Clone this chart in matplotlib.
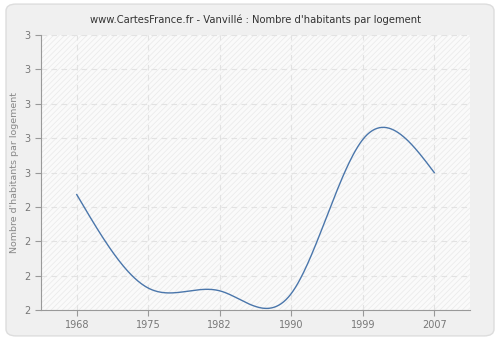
import numpy as np
from matplotlib import pyplot as plt
from matplotlib.patches import FancyBboxPatch, Rectangle
from matplotlib.ticker import FuncFormatter

# Données du graphique.
years = ['1968', '1975', '1982', '1990', '1999', '2007']
values = [2.42, 2.08, 2.07, 2.06, 2.62, 2.50]
y_ticks = [2.0, 2.125, 2.25, 2.375, 2.5, 2.625, 2.75, 2.875, 3.0]


def natural_spline(x, y, n=300):
    x = np.asarray(x, float)
    y = np.asarray(y, float)
    k = len(x)
    h = np.diff(x)
    a = np.zeros((k, k))
    b = np.zeros(k)
    a[0, 0] = a[-1, -1] = 1
    for i in range(1, k - 1):
        a[i, i - 1] = h[i - 1]
        a[i, i] = 2 * (h[i - 1] + h[i])
        a[i, i + 1] = h[i]
        b[i] = 3 * ((y[i + 1] - y[i]) / h[i] - (y[i] - y[i - 1]) / h[i - 1])
    c = np.linalg.solve(a, b)
    xs = np.linspace(x[0], x[-1], n)
    ys = np.empty_like(xs)
    for j, t in enumerate(xs):
        i = min(np.searchsorted(x, t, side='right') - 1, k - 2)
        d = t - x[i]
        bb = (y[i + 1] - y[i]) / h[i] - h[i] * (2 * c[i] + c[i + 1]) / 3
        dd = (c[i + 1] - c[i]) / (3 * h[i])
        ys[j] = y[i] + bb * d + c[i] * d ** 2 + dd * d ** 3
    return xs, ys


fig = plt.figure(figsize=(5, 3.4), dpi=100)
fig.patch.set_facecolor('white')
fig.patches.append(FancyBboxPatch((0.012, 0.012), 0.976, 0.976,
                                  boxstyle='round,pad=0,rounding_size=0.02',
                                  transform=fig.transFigure, facecolor='#f0f0f0',
                                  edgecolor='#dddddd', linewidth=1, zorder=-10))

ax = fig.add_axes([0.082, 0.088, 0.858, 0.809])
ax.set_facecolor('#fafafa')
plt.rcParams['hatch.linewidth'] = 0.5
ax.add_patch(Rectangle((0, 0), 1, 1, transform=ax.transAxes, facecolor='none',
                       edgecolor='#e9e9e9', hatch='//////', linewidth=0, zorder=0))

idx = np.arange(len(years))
xs, ys = natural_spline(idx, values)
ax.plot(xs, ys, color='#4a76ab', linewidth=1, zorder=3)

ax.set_xlim(-0.5, len(years) - 0.5)
ax.set_ylim(2.0, 3.0)
ax.set_xticks(idx)
ax.set_xticklabels(years)
ax.set_yticks(y_ticks)
ax.yaxis.set_major_formatter(FuncFormatter(lambda v, p: str(int(v + 0.5))))
ax.grid(True, color='#e2e2e2', linestyle=(0, (5, 4)), linewidth=0.8)
ax.set_axisbelow(True)

for s in ['top', 'right']:
    ax.spines[s].set_visible(False)
for s in ['left', 'bottom']:
    ax.spines[s].set_color('#999999')

ax.tick_params(axis='both', colors='#999999', labelcolor='#777777',
               labelsize=7, length=4)
ax.set_ylabel("Nombre d'habitants par logement", fontsize=6.8, color='#888888')
ax.set_title("www.CartesFrance.fr - Vanvillé : Nombre d'habitants par logement",
             fontsize=7.2, color='#333333', pad=9)

plt.savefig('out.png', dpi=100, facecolor=fig.get_facecolor())
